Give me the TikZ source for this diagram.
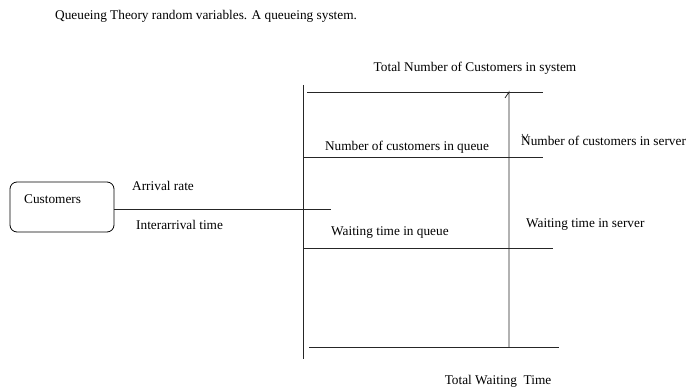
\documentclass[tikz,border=0pt]{standalone}
\usepackage{fontspec}
\setmainfont{Liberation Serif}
\begin{document}
\begin{tikzpicture}[x=1pt,y=-1pt,
  lbl/.style={font=\fontsize{13.3}{15}\selectfont, inner sep=0pt, anchor=west},
  ln/.style={line width=0.8pt, black!85},
  box/.style={draw, rounded corners=7pt, minimum width=104pt, minimum height=50pt, line width=0.8pt}]
\useasboundingbox (0,0) rectangle (686,390);
\node[lbl] (title) at (55,16) {Queueing Theory random variables. A queueing system.};
\node[lbl, anchor=center] (tot) at (475,68) {Total Number of Customers in system};
\node[box] (cust) at (62,207) {};
\node[lbl] (custt) at (24,199) {Customers};
\node[lbl] (arr) at (132,186) {Arrival rate};
\node[lbl] (inter) at (136,225) {Interarrival time};
\node[lbl, anchor=center] (nq) at (407,147) {Number of customers in queue};
\node[lbl] (ns) at (521,141) {Number of customers in server};
\node[lbl] (wq) at (331,233) {Waiting time in queue};
\node[lbl] (ws) at (526,225) {Waiting time in server};
\node[lbl, anchor=center] (tw) at (498,381) {Total Waiting\ \ Time};
% coordinates
\coordinate (lvt) at (303,85);
\coordinate (lvb) at (303,359);
\coordinate (t1) at (307,92);
\coordinate (t2) at (543,92);
\coordinate (q1) at (303,157);
\coordinate (q2) at (543,157);
\coordinate (a2) at (331,209);
\coordinate (w1) at (303,248);
\coordinate (w2) at (553,248);
\coordinate (b1) at (309,347);
\coordinate (b2) at (559,347);
\coordinate (vt) at (509,92);
\coordinate (vb) at (509,347);
\coordinate (tick) at (505,98);
\draw[ln] (lvt) -- (lvb);
\draw[ln] (t1) -- (t2);
\draw[ln] (q1) -- (q2);
\draw[ln] (cust.east |- a2) -- (a2);
\draw[ln] (w1) -- (w2);
\draw[ln] (b1) -- (b2);
\draw[ln] (vb) -- (vt) -- (tick);
\draw[line width=0.6pt] (522,134) -- (525,140) -- (528,134);
\end{tikzpicture}
\end{document}
